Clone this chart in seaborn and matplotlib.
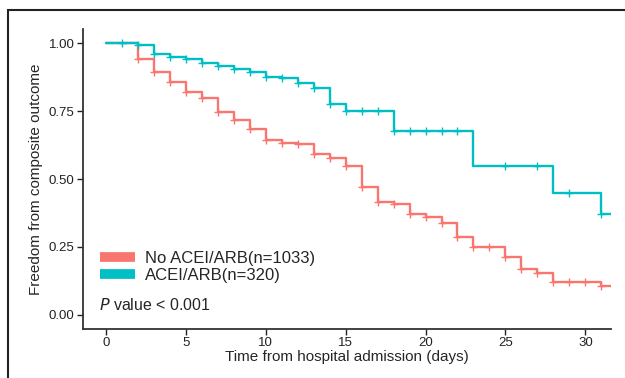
import numpy as np
import pandas as pd
import seaborn as sns
import matplotlib.pyplot as plt
from matplotlib.lines import Line2D
from matplotlib.patches import Rectangle

# Kaplan-Meier steps
no_time = [0, 2, 3, 4, 5, 6, 7, 8, 9, 10, 11, 12, 13, 14, 15, 16, 17, 18, 19, 20,
           21, 22, 23, 25, 26, 27, 28, 31]
no_surv = [1.0, 0.94, 0.895, 0.858, 0.821, 0.799, 0.747, 0.717, 0.683, 0.643, 0.632,
           0.627, 0.592, 0.578, 0.548, 0.472, 0.414, 0.408, 0.370, 0.361, 0.339,
           0.288, 0.251, 0.212, 0.169, 0.156, 0.122, 0.108]
no_censor = list(range(2, 32))

ace_time = [0, 2, 3, 4, 5, 6, 7, 8, 9, 10, 11, 12, 13, 14, 15, 18, 23, 28, 31]
ace_surv = [1.0, 0.993, 0.96, 0.95, 0.94, 0.925, 0.917, 0.904, 0.892, 0.876, 0.870,
            0.854, 0.833, 0.776, 0.75, 0.678, 0.548, 0.45, 0.371]
ace_censor = list(range(1, 23)) + [25, 27, 29, 31]

end_time = 31.58
groups = ["No ACEI/ARB(n=1033)", "ACEI/ARB(n=320)"]
colors = ["#F8766D", "#00BFC4"]


def step_df(times, surv, name):
    t = list(times) + [end_time]
    s = list(surv) + [surv[-1]]
    return pd.DataFrame({"time": t, "surv": s, "group": name})


def censor_df(times, surv, ctimes, name):
    idx = np.searchsorted(times, ctimes, side="right") - 1
    return pd.DataFrame({"time": ctimes, "surv": np.array(surv)[idx], "group": name})


curves = pd.concat([step_df(no_time, no_surv, groups[0]),
                    step_df(ace_time, ace_surv, groups[1])])
marks = pd.concat([censor_df(no_time, no_surv, no_censor, groups[0]),
                   censor_df(ace_time, ace_surv, ace_censor, groups[1])])

sns.set_style("white")
plt.rcParams["font.family"] = ["Liberation Sans", "DejaVu Sans"]

fig = plt.figure(figsize=(6.25, 3.78), dpi=100)
ax = fig.add_axes([0.1328, 0.1307, 0.8443, 0.7915])

pal = dict(zip(groups, colors))
for g in groups:
    sns.lineplot(data=curves[curves.group == g], x="time", y="surv", color=pal[g],
                 drawstyle="steps-post", estimator=None, lw=1.7, ax=ax, legend=False)
    m = marks[marks.group == g]
    ax.plot(m.time, m.surv, ls="none", marker="+", ms=5.5, mew=1.0, color=pal[g])

ax.set_xlim(-1.42, end_time)
ax.set_ylim(-0.05, 1.05)
ax.set_xticks([0, 5, 10, 15, 20, 25, 30])
ax.set_yticks([0, 0.25, 0.5, 0.75, 1.0])
ax.set_yticklabels(["0.00", "0.25", "0.50", "0.75", "1.00"])
ax.tick_params(axis="both", labelsize=9.5, colors="#222222", length=4, width=1,
               direction="out", bottom=True, left=True, pad=2)
for sp in ["top", "right"]:
    ax.spines[sp].set_visible(False)
for sp in ["left", "bottom"]:
    ax.spines[sp].set_color("#333333")
    ax.spines[sp].set_linewidth(1.3)

ax.set_xlabel("Time from hospital admission (days)", fontsize=11, labelpad=1)
ax.set_ylabel("Freedom from composite outcome", fontsize=11, labelpad=4)

handles = [Line2D([0], [0], color=c, lw=7, solid_capstyle="butt") for c in colors]
ax.legend(handles, groups, loc="lower left", bbox_to_anchor=(0.02, 0.13), frameon=False,
          fontsize=12, handlelength=2.1, handletextpad=0.6, labelspacing=0.15,
          borderaxespad=0)

ax.text(0.03, 0.078, "$\\it{P}$ value < 0.001", transform=ax.transAxes,
        fontsize=11.5, va="center", ha="left")

fig.patches.append(Rectangle((8 / 625, -0.2), 1.2, 1.2 - 10 / 378, transform=fig.transFigure,
                             fill=False, lw=1.5, edgecolor="#222222"))

fig.savefig("out.png", dpi=100)
